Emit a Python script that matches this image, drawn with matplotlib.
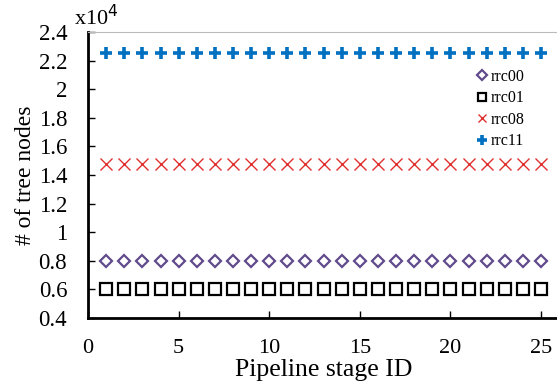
import numpy as np
import matplotlib
matplotlib.use('Agg')
from matplotlib import pyplot as plt
from matplotlib.ticker import FuncFormatter

plt.rcParams['font.family'] = ['Liberation Serif', 'DejaVu Serif']

stages = list(range(1, 26))
rrc00 = [8000] * 25
rrc01 = [6000] * 25
rrc08 = [14800] * 25
rrc11 = [22500] * 25

fig = plt.figure(figsize=(5.57, 3.86), dpi=100)
ax = fig.add_axes([0.158, 0.176, 0.846, 0.741])

ax.plot(stages, rrc00, linestyle='none', marker='D', markersize=6.5,
        markerfacecolor='none', markeredgecolor='#604A8B', markeredgewidth=1.6, label='rrc00')
ax.plot(stages, rrc01, linestyle='none', marker='s', markersize=8,
        markerfacecolor='none', markeredgecolor='black', markeredgewidth=1.6, label='rrc01')
ax.plot(stages, rrc08, linestyle='none', marker='x', markersize=8,
        markeredgecolor='#E03030', markeredgewidth=1.0, label='rrc08')
ax.plot(stages, rrc11, linestyle='none', marker='+', markersize=9,
        markeredgecolor='#0070C0', markeredgewidth=2.6, label='rrc11')

ax.set_xlim(0, 26)
ax.set_ylim(4000, 24000)
ax.set_xticks([0, 5, 10, 15, 20, 25])
ax.set_yticks(np.arange(4000, 24001, 2000))
ax.yaxis.set_major_formatter(FuncFormatter(lambda v, p: '%g' % round(v / 1e4, 1)))

ax.spines['right'].set_visible(False)
ax.spines['top'].set_color('#BBBBBB')
ax.spines['left'].set_linewidth(2)
ax.spines['bottom'].set_linewidth(2)
ax.tick_params(axis='both', direction='in', length=5, width=1, labelsize=16.5)
ax.tick_params(axis='x', pad=15, labelsize=16)
ax.tick_params(axis='y', pad=15)

ax.text(-0.03, 1.005, r'x10$^4$', transform=ax.transAxes, fontsize=16,
        ha='left', va='bottom')

ax.set_xlabel('Pipeline stage ID', fontsize=18.5, labelpad=1)
ax.set_ylabel('# of tree nodes', fontsize=17, labelpad=2)

ax.legend(loc='upper left', bbox_to_anchor=(0.81, 0.9), frameon=False,
          fontsize=11.5, handlelength=0.6, handletextpad=0.2, labelspacing=0.35,
          borderpad=0, markerscale=0.8)

fig.savefig('out.png', dpi=100)
